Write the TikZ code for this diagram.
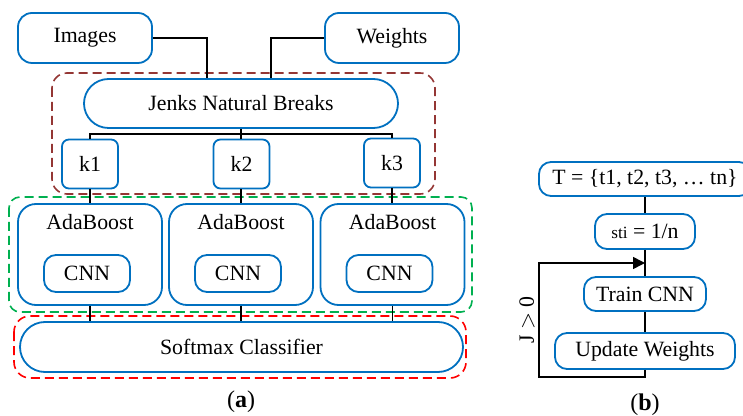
\documentclass[tikz,border=0pt]{standalone}
\usepackage{fontspec}
\setmainfont{Liberation Serif}
\usetikzlibrary{arrows.meta}
\definecolor{boxblue}{RGB}{0,112,192}
\definecolor{grpbrown}{RGB}{148,54,52}
\definecolor{grpgreen}{RGB}{0,176,80}
\definecolor{grpred}{RGB}{255,0,0}
\tikzset{
  x=0.5pt, y=-0.5pt,
  every node/.style={font=\fontsize{10.9}{13}\selectfont, inner sep=0pt},
  bbox/.style={draw=boxblue, line width=0.9pt, rounded corners=#1, fill=white},
  bbox/.default=6pt,
  wire/.style={draw=black, line width=0.75pt},
  grp/.style={draw=#1, line width=0.8pt, dash pattern=on 4.5pt off 2.5pt},
  caption/.style={font=\fontsize{12}{14}\selectfont}
}
\begin{document}
\begin{tikzpicture}
\useasboundingbox (0,0) rectangle (743,416);
\clip (0,0) rectangle (743,416);

% ---- panel (a): group frames
\draw[grp=grpbrown, rounded corners=7.5pt] (52,73) rectangle (435,194);
\draw[grp=grpgreen, rounded corners=5.5pt] (9,197) rectangle (472,312);
\draw[grp=grpred, rounded corners=8pt] (14,316) rectangle (466,378);

% ---- panel (a): inputs
\node[bbox=7pt, minimum width=67pt, minimum height=25pt] (img) at (85,38) {Images};
\node[bbox=7pt, minimum width=67pt, minimum height=25pt] (wts) at (392,38) {Weights};

\node[bbox=12.25pt, minimum width=157pt, minimum height=24.5pt] (jnb) at (241,103.5) {Jenks Natural Breaks};

\node[bbox=3.5pt, minimum width=28pt, minimum height=24.5pt] (k1) at (90,164) {k1};
\node[bbox=3.5pt, minimum width=28pt, minimum height=24.5pt] (k2) at (241.5,164) {k2};
\node[bbox=3.5pt, minimum width=28pt, minimum height=24.5pt] (k3) at (392,163) {k3};

% ---- panel (a): AdaBoost learners with inner CNN
\node[bbox=9pt, minimum width=72pt, minimum height=50.5pt] (ab1) at (90,254.5) {};
\node[bbox=9pt, minimum width=72pt, minimum height=50.5pt] (ab2) at (241,254.5) {};
\node[bbox=9pt, minimum width=72pt, minimum height=50.5pt] (ab3) at (392.5,254.5) {};
\node (abt1) at (90,222) {AdaBoost};
\node (abt2) at (241,222) {AdaBoost};
\node (abt3) at (392.5,222) {AdaBoost};
\node[bbox=6pt, minimum width=43pt, minimum height=18.5pt] (cnn1) at (87,273.5) {CNN};
\node[bbox=6pt, minimum width=43pt, minimum height=18.5pt] (cnn2) at (238,273.5) {CNN};
\node[bbox=6pt, minimum width=43pt, minimum height=18.5pt] (cnn3) at (389.5,273.5) {CNN};

\node[bbox=12.5pt, minimum width=221.5pt, minimum height=25pt] (smx) at (241.5,347) {Softmax Classifier};

% ---- panel (a): connectors
\draw[wire] (img.east) -| (jnb.north -| 207,0);
\draw[wire] (wts.west) -| (jnb.north -| 271,0);
\coordinate (bus) at (241,134);
\draw[wire] (jnb.south -| bus) -- (bus);
\draw[wire] (k1.north) |- (bus) -| (k3.north);
\draw[wire] (bus) -- (k2.north -| bus);
\draw[wire] (k1.south) -- (ab1.north -| k1.south);
\draw[wire] (k2.south -| ab2.north) -- (ab2.north);
\draw[wire] (k3.south) -- (ab3.north -| k3.south);
\draw[wire] (ab1.south) -- (smx.north -| ab1.south);
\draw[wire] (ab2.south) -- (smx.north -| ab2.south);
\draw[wire] (ab3.south) -- (smx.north -| ab3.south);

\node[caption] (capa) at (241,402) {(\textbf{a})};

% ---- panel (b): training loop
\node[bbox=6pt, minimum width=106pt, minimum height=17pt] (tset) at (645,179) {T = \{t1, t2, t3, … tn\}};
\node[bbox=6pt, minimum width=50pt, minimum height=17.5pt] (sti) at (645,231.5) {{\fontsize{8.6}{10}\selectfont sti} = 1/n};
\node[bbox=6pt, minimum width=61pt, minimum height=17pt] (trn) at (645,294) {Train CNN};
\node[bbox=6pt, minimum width=90pt, minimum height=18pt] (upd) at (645,351) {Update Weights};

\draw[wire] (tset.south) -- (sti.north);
\draw[wire] (sti.south) -- (trn.north);
\draw[wire] (trn.south) -- (upd.north);
\coordinate (lbot) at (539,377);
\coordinate (ltop) at (539,263);
\coordinate (lin) at (645,263);
\draw[wire, -{Triangle[length=6pt,width=6pt]}] (upd.south) |- (lbot) -- (ltop) -- (lin);
\node[rotate=90] (cond) at (527,320) {J $>$ 0};

\node[caption] (capb) at (645,405) {(\textbf{b})};
\end{tikzpicture}
\end{document}
